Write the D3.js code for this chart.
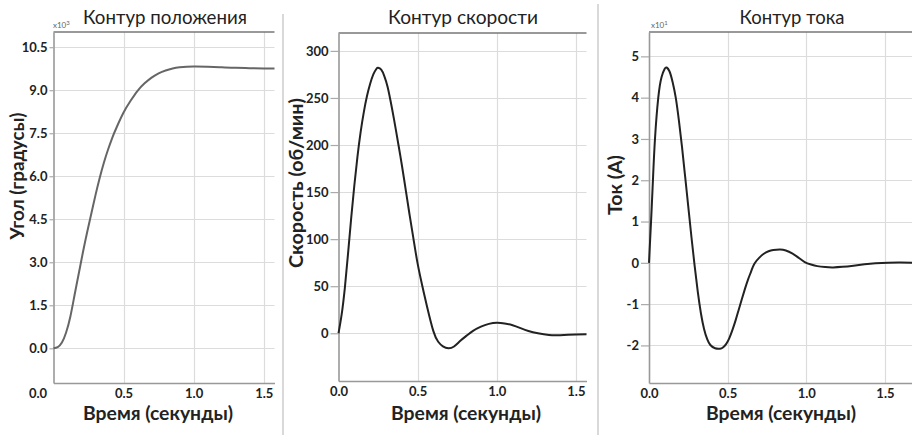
<!DOCTYPE html>
<html><head><meta charset="utf-8">
<script src="https://cdn.jsdelivr.net/npm/d3@7/dist/d3.min.js"></script>
<style>
html,body{margin:0;padding:0;background:#fff;}
svg{display:block;font-family:Lato,"Open Sans",sans-serif;}
</style></head>
<body><svg id="chart" width="912" height="435"></svg>
<script>
// ---------- data ----------
const timeTicks = [0, 0.5, 1.0, 1.5];
const xLabel = "Время (секунды)";
const panelTitles = ["Контур положения", "Контур скорости", "Контур тока"];
const yLabels = ["Угол (градусы)", "Скорость (об/мин)", "Ток (А)"];
const multipliers = ["3", null, "1"];

const posTicks = [0, 1.5, 3.0, 4.5, 6.0, 7.5, 9.0, 10.5];
const spdTicks = [0, 50, 100, 150, 200, 250, 300];
const curTicks = [-2, -1, 0, 1, 2, 3, 4, 5];

const posTime  = [0, 0.03, 0.06, 0.09, 0.12, 0.15, 0.18, 0.21, 0.24, 0.27, 0.30, 0.33, 0.36, 0.39, 0.42, 0.45, 0.50, 0.55, 0.60, 0.65, 0.70, 0.75, 0.80, 0.85, 0.90, 1.00, 1.10, 1.20, 1.30, 1.40, 1.50, 1.577];
const posValue = [0, 0.04, 0.2, 0.55, 1.1, 1.85, 2.6, 3.35, 4.05, 4.7, 5.35, 5.95, 6.48, 6.94, 7.35, 7.7, 8.22, 8.63, 8.98, 9.24, 9.44, 9.59, 9.69, 9.76, 9.8, 9.83, 9.82, 9.8, 9.78, 9.77, 9.76, 9.76];

const spdTime  = [0, 0.02, 0.04, 0.06, 0.08, 0.10, 0.12, 0.14, 0.16, 0.18, 0.20, 0.22, 0.24, 0.25, 0.27, 0.29, 0.31, 0.33, 0.35, 0.379, 0.40, 0.427, 0.45, 0.474, 0.50, 0.53, 0.56, 0.60, 0.63, 0.66, 0.695, 0.73, 0.77, 0.81, 0.85, 0.90, 0.95, 1.00, 1.05, 1.10, 1.15, 1.20, 1.26, 1.33, 1.40, 1.50, 1.567];
const spdValue = [0, 20, 48, 84, 122, 157, 188, 214, 235, 252, 265, 275, 281, 282, 280, 273, 262, 246, 228, 200, 179, 150, 125, 100, 74, 50, 28, 2, -9, -14, -16, -14, -8, -2.5, 2.5, 7, 10, 11.3, 10.5, 8.5, 5.5, 2.5, 0, -1.8, -2, -1.3, -1];

const curTime  = [0, 0.013, 0.025, 0.038, 0.059, 0.08, 0.10, 0.112, 0.13, 0.15, 0.17, 0.19, 0.21, 0.23, 0.25, 0.27, 0.29, 0.31, 0.33, 0.35, 0.37, 0.39, 0.42, 0.451, 0.47, 0.49, 0.51, 0.53, 0.55, 0.57, 0.59, 0.61, 0.63, 0.65, 0.67, 0.70, 0.73, 0.76, 0.79, 0.833, 0.87, 0.91, 0.95, 0.99, 1.03, 1.07, 1.12, 1.17, 1.23, 1.30, 1.37, 1.44, 1.52, 1.60, 1.672];
const curValue = [0, 1, 2, 3, 4, 4.5, 4.7, 4.73, 4.64, 4.38, 4.0, 3.45, 2.8, 2.08, 1.35, 0.62, -0.07, -0.7, -1.22, -1.6, -1.85, -1.99, -2.07, -2.08, -2.05, -1.97, -1.83, -1.63, -1.4, -1.14, -0.88, -0.63, -0.4, -0.2, -0.02, 0.12, 0.22, 0.28, 0.31, 0.322, 0.3, 0.23, 0.125, 0.02, -0.04, -0.08, -0.103, -0.11, -0.097, -0.068, -0.035, -0.01, 0.005, 0.008, 0.005];

// ---------- drawing ----------
const svg = d3.select("#chart");
const hyphen = f => d => f(d).replace("\u2212", "-");

// separators
svg.append("line").attr("x1", 283).attr("x2", 283).attr("y1", 14).attr("y2", 435)
  .attr("stroke", "#d9d9d9").attr("stroke-width", 2);
svg.append("line").attr("x1", 598).attr("x2", 598).attr("y1", 4).attr("y2", 435)
  .attr("stroke", "#d9d9d9").attr("stroke-width", 2);

function fit(textSel, w) {
  const node = textSel.node();
  const fs = parseFloat(textSel.attr("font-size"));
  const len = node.getComputedTextLength();
  if (len > 0) textSel.attr("font-size", (fs * w / len).toFixed(2));
}

const panels = [
  {time: posTime, value: posValue, ticks: posTicks, fmt: hyphen(d3.format(".1f")),
   left: 53.5, right: 274.5, top: 32, bottom: 383, xDomain: [0, 1.577], yDomain: [-1.21, 11.03],
   color: "#666", titleX: 165, titleW: 164, yLabX: 17, yLabY: 176, yLabW: 127,
   xLabX: 158, multX: 53, tickSize: 4, firstDx: -16},
  {time: spdTime, value: spdValue, ticks: spdTicks, fmt: hyphen(d3.format("d")),
   left: 338.5, right: 586.5, top: 33, bottom: 381, xDomain: [0, 1.567], yDomain: [-50.7, 319],
   color: "#222", titleX: 463, titleW: 150, yLabX: 296, yLabY: 183, yLabW: 170,
   xLabX: 466, multX: null, tickSize: 8, firstDx: 0},
  {time: curTime, value: curValue, ticks: curTicks, fmt: hyphen(d3.format("d")),
   left: 649, right: 912, top: 32, bottom: 383, xDomain: [0, 1.672], yDomain: [-2.91, 5.59],
   color: "#222", titleX: 792, titleW: 105, yLabX: 615, yLabY: 185, yLabW: 60,
   xLabX: 781, multX: 651, tickSize: 8, firstDx: 0}
];

panels.forEach((p, i) => {
  const g = svg.append("g");
  const x = d3.scaleLinear().domain(p.xDomain).range([p.left, p.right]);
  const y = d3.scaleLinear().domain(p.yDomain).range([p.bottom, p.top]);

  // grid
  g.append("g").selectAll("line").data(p.ticks).join("line")
    .attr("x1", p.left).attr("x2", p.right)
    .attr("y1", d => Math.round(y(d)) + 0.5).attr("y2", d => Math.round(y(d)) + 0.5)
    .attr("stroke", "#dcdcdc").attr("stroke-width", 1.2);
  g.append("g").selectAll("line").data(timeTicks.filter(t => t > 0)).join("line")
    .attr("x1", d => Math.round(x(d)) + 0.5).attr("x2", d => Math.round(x(d)) + 0.5)
    .attr("y1", p.top).attr("y2", p.bottom)
    .attr("stroke", "#dcdcdc").attr("stroke-width", 1.2);

  // top border
  g.append("line").attr("x1", p.left).attr("x2", p.right).attr("y1", p.top).attr("y2", p.top)
    .attr("stroke", "#777").attr("stroke-width", 1.3);

  // y axis
  const ya = g.append("g").attr("transform", `translate(${p.left},0)`)
    .call(d3.axisLeft(y).tickValues(p.ticks).tickFormat(p.fmt).tickSize(p.tickSize).tickSizeOuter(0).tickPadding(2));
  ya.select(".domain").attr("stroke", "#999").attr("stroke-width", 1.6);
  ya.selectAll(".tick line").attr("stroke", "#aaa").attr("stroke-width", 1.2);
  ya.selectAll(".tick text").attr("font-size", 13).attr("font-weight", 700).attr("fill", "#222")
    .attr("font-family", "Lato, sans-serif");

  // x axis
  const xa = g.append("g").attr("transform", `translate(0,${p.bottom})`)
    .call(d3.axisBottom(x).tickValues(timeTicks).tickFormat(d3.format(".1f")).tickSize(0).tickSizeOuter(0).tickPadding(6));
  xa.select(".domain").attr("stroke", "#999").attr("stroke-width", 1.6);
  xa.selectAll(".tick text").attr("font-size", 13).attr("font-weight", 700).attr("fill", "#222")
    .attr("font-family", "Lato, sans-serif")
    .attr("dx", (d, k) => k === 0 ? p.firstDx : 0);

  // line
  const pts = p.time.map((t, k) => [t, p.value[k]]);
  g.append("path").datum(pts)
    .attr("fill", "none").attr("stroke", p.color).attr("stroke-width", 2)
    .attr("d", d3.line().x(d => x(d[0])).y(d => y(d[1])).curve(d3.curveNatural));

  // title
  const tt = g.append("text").attr("x", p.titleX).attr("y", 24).attr("text-anchor", "middle")
    .attr("font-size", 17).attr("fill", "#222").attr("font-weight", 400).text(panelTitles[i]);
  fit(tt, p.titleW);

  // x label
  const xl = g.append("text").attr("x", p.xLabX).attr("y", 420).attr("text-anchor", "middle")
    .attr("font-size", 17).attr("font-weight", 700).attr("fill", "#222").text(xLabel);
  fit(xl, 150);

  // y label
  const yl = g.append("text").attr("transform", `translate(${p.yLabX},${p.yLabY}) rotate(-90)`)
    .attr("text-anchor", "middle").attr("dy", "0.35em")
    .attr("font-size", 17).attr("font-weight", 700).attr("fill", "#222").text(yLabels[i]);
  fit(yl, p.yLabW);

  // multiplier
  if (multipliers[i]) {
    const m = g.append("text").attr("x", p.multX).attr("y", 28).attr("font-size", 8).attr("fill", "#666");
    m.append("tspan").text("x10");
    m.append("tspan").attr("dy", -3).attr("font-size", 6).text(multipliers[i]);
  }
});
</script>
</body></html>
